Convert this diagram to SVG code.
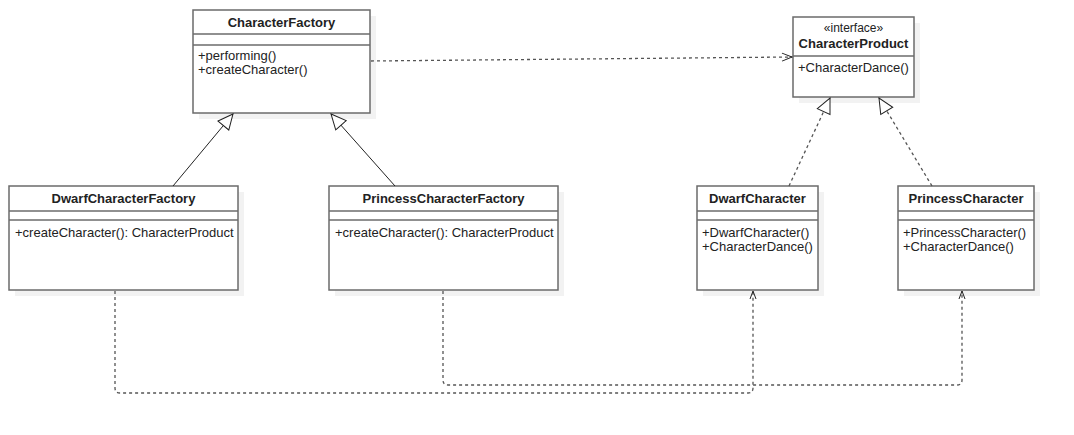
<svg xmlns="http://www.w3.org/2000/svg" width="1074" height="435" viewBox="0 0 1074 435">
<style>
.box{fill:#fff;stroke:#6b6b6b;stroke-width:1.5}
.sh{fill:#f2f2f2;stroke:none}
.div{stroke:#6b6b6b;stroke-width:1.5}
.t{font-family:"Liberation Sans",Arial,sans-serif;font-size:13px;fill:#222}
.b{font-weight:bold;text-anchor:middle}
.s{font-size:12px;text-anchor:middle}
.gen{fill:none;stroke:#222;stroke-width:1}
.dash{fill:none;stroke:#555;stroke-width:1.3;stroke-dasharray:3 3}
</style>
<defs>
<marker id="tri" markerUnits="userSpaceOnUse" markerWidth="20" markerHeight="20" refX="16" refY="8" orient="auto" viewBox="0 0 20 16">
<path d="M1,1 L16,8 L1,15 Z" fill="#fff" stroke="#222" stroke-width="1"/>
</marker>
<marker id="open" markerUnits="userSpaceOnUse" markerWidth="14" markerHeight="12" refX="11" refY="5" orient="auto" viewBox="0 0 14 10">
<path d="M1,1 L11,5 L1,9" fill="none" stroke="#222" stroke-width="1"/>
</marker>
<marker id="open2" markerUnits="userSpaceOnUse" markerWidth="12" markerHeight="10" refX="9" refY="4" orient="auto" viewBox="0 0 12 8">
<path d="M1,1 L9,4 L1,7" fill="none" stroke="#222" stroke-width="1"/>
</marker>
</defs>

<g id="CharacterFactory">
<rect class="sh" x="199" y="16" width="177" height="103"/>
<rect class="box" x="193" y="10" width="177" height="103"/>
<line class="div" x1="193" y1="34" x2="370" y2="34"/>
<line class="div" x1="193" y1="45" x2="370" y2="45"/>
<text class="t b" x="281.5" y="27">CharacterFactory</text>
<text class="t" x="198" y="59.5">+performing()</text>
<text class="t" x="198" y="74">+createCharacter()</text>
</g>

<g id="CharacterProduct">
<rect class="sh" x="799" y="23" width="121" height="80"/>
<rect class="box" x="793" y="17" width="121" height="80"/>
<line class="div" x1="793" y1="56" x2="914" y2="56"/>
<text class="t s" x="853.5" y="32">«interface»</text>
<text class="t b" x="853.5" y="48">CharacterProduct</text>
<text class="t" x="798" y="72">+CharacterDance()</text>
</g>

<g id="DwarfCharacterFactory">
<rect class="sh" x="15" y="192" width="229" height="104"/>
<rect class="box" x="9" y="186" width="229" height="104"/>
<line class="div" x1="9" y1="211" x2="238" y2="211"/>
<line class="div" x1="9" y1="220" x2="238" y2="220"/>
<text class="t b" x="123.5" y="203">DwarfCharacterFactory</text>
<text class="t" x="15" y="236.5">+createCharacter(): CharacterProduct</text>
</g>

<g id="PrincessCharacterFactory">
<rect class="sh" x="335" y="192" width="229" height="104"/>
<rect class="box" x="329" y="186" width="229" height="104"/>
<line class="div" x1="329" y1="211" x2="558" y2="211"/>
<line class="div" x1="329" y1="220" x2="558" y2="220"/>
<text class="t b" x="443.5" y="203">PrincessCharacterFactory</text>
<text class="t" x="335" y="236.5">+createCharacter(): CharacterProduct</text>
</g>

<g id="DwarfCharacter">
<rect class="sh" x="703" y="192" width="121" height="104"/>
<rect class="box" x="697" y="186" width="121" height="104"/>
<line class="div" x1="697" y1="211" x2="818" y2="211"/>
<line class="div" x1="697" y1="220" x2="818" y2="220"/>
<text class="t b" x="757.5" y="203">DwarfCharacter</text>
<text class="t" x="702" y="236.5">+DwarfCharacter()</text>
<text class="t" x="702" y="251">+CharacterDance()</text>
</g>

<g id="PrincessCharacter">
<rect class="sh" x="904" y="192" width="136" height="104"/>
<rect class="box" x="898" y="186" width="136" height="104"/>
<line class="div" x1="898" y1="211" x2="1034" y2="211"/>
<line class="div" x1="898" y1="220" x2="1034" y2="220"/>
<text class="t b" x="966" y="203">PrincessCharacter</text>
<text class="t" x="903" y="236.5">+PrincessCharacter()</text>
<text class="t" x="903" y="251">+CharacterDance()</text>
</g>

<g id="connectors">
<line class="gen" x1="173" y1="186" x2="233" y2="114" marker-end="url(#tri)"/>
<line class="gen" x1="395" y1="186" x2="331" y2="114" marker-end="url(#tri)"/>
<line class="dash" x1="789" y1="186" x2="830" y2="98" marker-end="url(#tri)"/>
<line class="dash" x1="932" y1="186" x2="879" y2="98" marker-end="url(#tri)"/>
<line class="dash" x1="371" y1="61" x2="792" y2="57" marker-end="url(#open)"/>
<path class="dash" d="M115,291 V388 Q115,393 120,393 H748 Q753,393 753,388 V291" marker-end="url(#open2)"/>
<path class="dash" d="M443,291 V380 Q443,385 448,385 H957 Q962,385 962,380 V291" marker-end="url(#open2)"/>
</g>
</svg>
